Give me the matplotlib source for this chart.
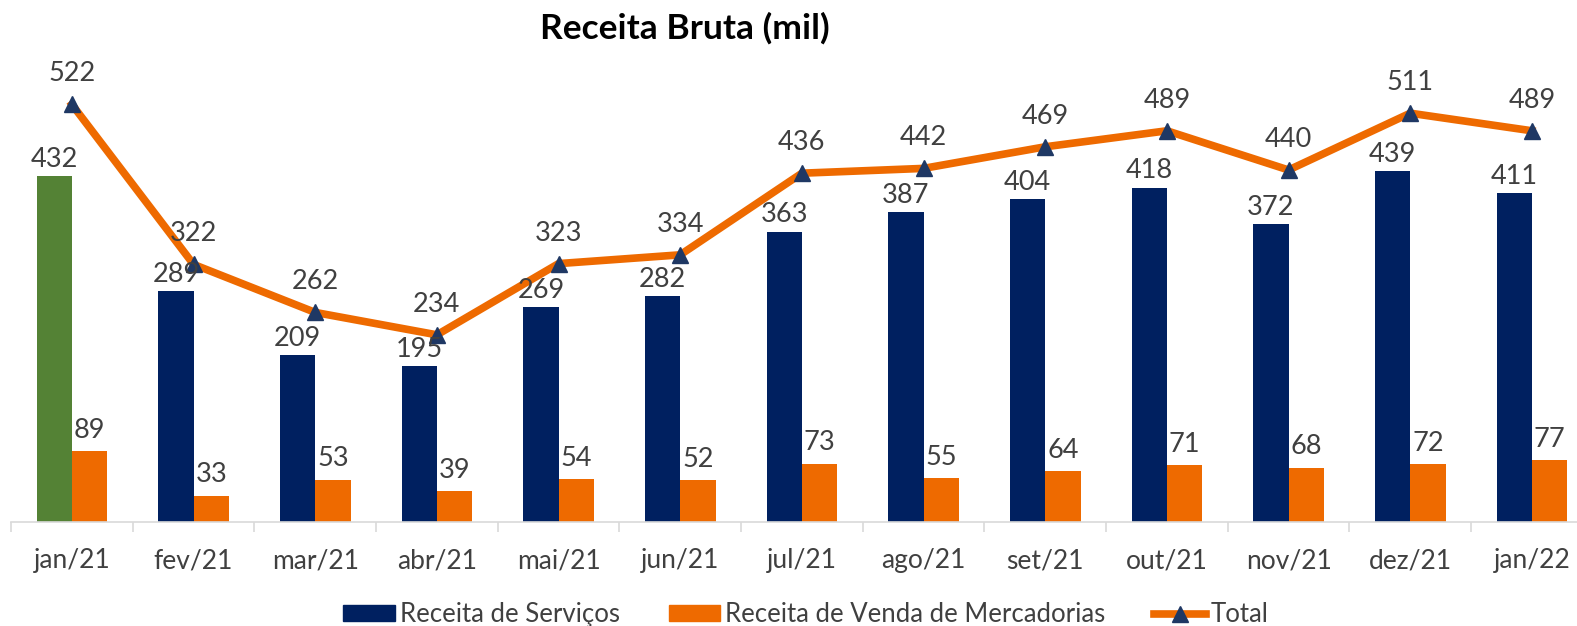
import matplotlib.pyplot as plt
from matplotlib.lines import Line2D
from matplotlib.patches import Patch

months = ["jan/21", "fev/21", "mar/21", "abr/21", "mai/21", "jun/21", "jul/21",
          "ago/21", "set/21", "out/21", "nov/21", "dez/21", "jan/22"]
servicos = [432, 289, 209, 195, 269, 282, 363, 387, 404, 418, 372, 439, 411]
mercadorias = [89, 33, 53, 39, 54, 52, 73, 55, 64, 71, 68, 72, 77]
total = [522, 322, 262, 234, 323, 334, 436, 442, 469, 489, 440, 511, 489]

NAVY = "#002060"
GREEN = "#548235"
ORANGE = "#EE6A00"
MARKER = "#1F3864"
TXT = "#404040"

plt.rcParams['font.family'] = ['Lato', 'DejaVu Sans']

fig = plt.figure(figsize=(15.77, 6.26), dpi=100)
ax = fig.add_axes([0.007, 0.166, 1.003, 0.735])

x = list(range(len(months)))
w = 0.29
bar_colors = [GREEN] + [NAVY] * (len(months) - 1)
ax.bar([i - w / 2 for i in x], servicos, w, color=bar_colors, zorder=2)
ax.bar([i + w / 2 for i in x], mercadorias, w, color=ORANGE, zorder=2)
ax.plot(x, total, color=ORANGE, lw=5.5, marker="^", ms=11,
        markerfacecolor=MARKER, markeredgecolor=MARKER, zorder=3)

for i in x:
    ax.annotate(str(servicos[i]), (i - w / 2, servicos[i]), xytext=(0, 3),
                textcoords="offset points", ha="center", va="bottom",
                fontsize=19.5, color=TXT, zorder=4)
    ax.annotate(str(mercadorias[i]), (i + w / 2, mercadorias[i]), xytext=(0, 6),
                textcoords="offset points", ha="center", va="bottom",
                fontsize=19.5, color=TXT, zorder=4)
    ax.annotate(str(total[i]), (i, total[i]), xytext=(0, 13),
                textcoords="offset points", ha="center", va="bottom",
                fontsize=19.5, color=TXT, zorder=4)

ax.set_xlim(-0.5, len(months) - 0.5)
ax.set_ylim(0, 575)
ax.set_yticks([])
for s in ["top", "right", "left"]:
    ax.spines[s].set_visible(False)
ax.spines["bottom"].set_color("#D9D9D9")
ax.spines["bottom"].set_linewidth(1.2)
ax.set_xticks(x)
ax.set_xticklabels(months, fontsize=19, color=TXT)
ax.tick_params(axis="x", which="major", length=0, pad=19)
ax.set_xticks([i - 0.5 for i in range(len(months) + 1)], minor=True)
ax.tick_params(axis="x", which="minor", length=7, color="#D9D9D9", width=1.2)

fig.text(0.434, 0.955, "Receita Bruta (mil)", ha="center", va="center",
         fontsize=25.5, fontweight="bold", color="black")

handles = [Patch(color=NAVY), Patch(color=ORANGE),
           Line2D([], [], color=ORANGE, lw=5.5, marker="^", ms=11,
                  markerfacecolor=MARKER, markeredgecolor=MARKER)]
labels = ["Receita de Serviços", "Receita de Venda de Mercadorias", "Total"]
fig.legend(handles, labels, loc="center", bbox_to_anchor=(0.511, 0.018),
           ncol=3, frameon=False, fontsize=18.5, handlelength=2.0,
           handleheight=0.55, handletextpad=0.2, columnspacing=1.9,
           labelcolor=TXT)

fig.savefig("out.png", dpi=100)
